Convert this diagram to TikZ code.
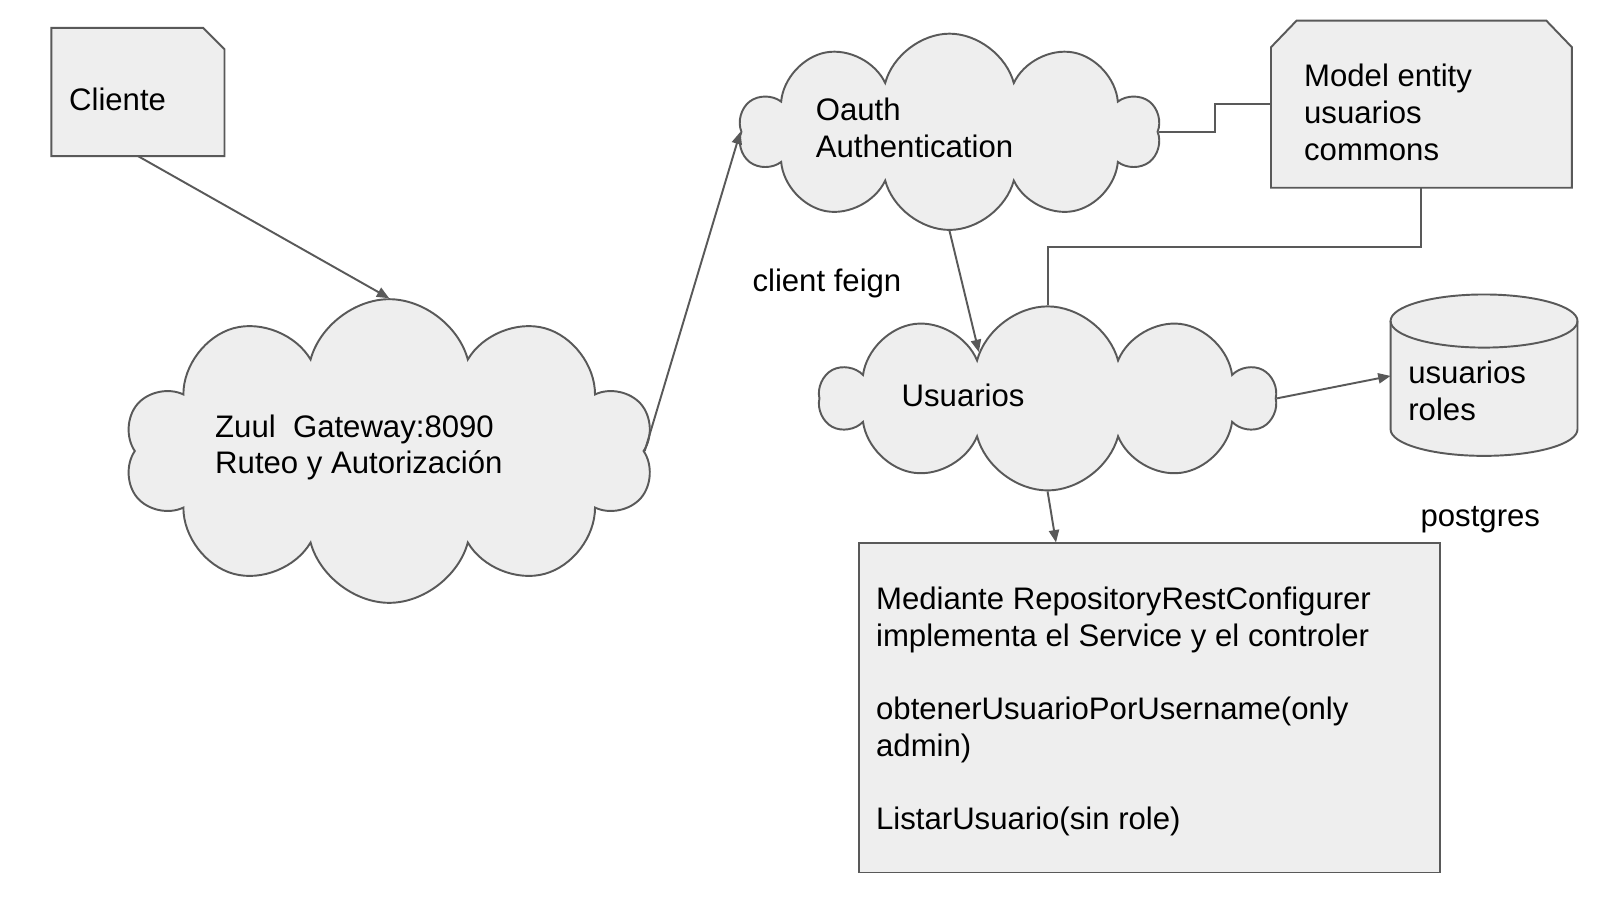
\documentclass[tikz,border=0pt]{standalone}
\usepackage{fontspec}
\setmainfont{Liberation Sans}
\usetikzlibrary{shapes.symbols,arrows.meta,calc}
\definecolor{gris}{HTML}{595959}
\definecolor{grisclaro}{HTML}{EEEEEE}

\begin{document}
\begin{tikzpicture}[x=0.010215cm,y=-0.010215cm,
			forma/.style={draw=gris, fill=grisclaro, line width=0.55pt},
			nube/.style={forma, cloud, cloud puffs=10, cloud ignores aspect, inner sep=0pt},
			caja/.style={forma, rectangle, inner sep=0pt},
			hueco/.style={rectangle, inner sep=0pt},
			texto/.style={anchor=west, align=left, inner sep=0pt, font=\fontsize{8.85}{10.45}\selectfont},
			conector/.style={draw=gris, line width=0.55pt},
			flecha/.style={conector, -{Triangle[length=3.5pt,width=2.9pt]}}]
			\useasboundingbox (0,0) rectangle (1566.3,881.1);
			\node[hueco, minimum width=1.716cm, minimum height=1.267cm] (cliente) at (135,90) {};
			\draw[forma] (cliente.south west) -- (cliente.north west) -- ($(cliente.north east)+(-21,0)$)
				-- ($(cliente.north east)+(0,21)$) -- (cliente.south east) -- cycle;
			\node[nube, minimum width=5.291cm, minimum height=3.034cm] (zuul) at (381,441.5) {};
			\node[nube, minimum width=4.198cm, minimum height=1.961cm] (oauth) at (929.5,129) {};
			\node[hueco, minimum width=2.993cm, minimum height=1.655cm] (model) at (1391.5,102) {};
			\draw[forma] (model.south west) -- ($(model.north west)+(0,26)$) -- ($(model.north west)+(25,0)$)
				-- ($(model.north east)+(-25,0)$) -- ($(model.north east)+(0,26)$) -- (model.south east) -- cycle;
			\node[nube, minimum width=4.525cm, minimum height=1.839cm] (usuarios) at (1025.5,390) {};
			\node[hueco, minimum width=1.869cm, minimum height=1.614cm] (bd) at (1453.5,368) {};
			\draw[forma] (bd.north west) ++(0,26) -- ++(0,106)
				arc[start angle=180, end angle=0, x radius=91.5, y radius=26] -- ++(0,-106)
				arc[start angle=0, end angle=-180, x radius=91.5, y radius=26] -- cycle;
			\draw[conector] (bd.north west) ++(0,26) arc[start angle=180, end angle=0, x radius=91.5, y radius=26];
			\node[caja, minimum width=5.802cm, minimum height=3.289cm] (servicio) at (1125,693) {};
			
			\node[texto] (cliente-txt) at (67,97) {Cliente};
			\node[texto] (zuul-txt) at (210,438) {Zuul\ \ Gateway:8090\\Ruteo y Autorizaci\'on};
			\node[texto] (oauth-txt) at (798,125.5) {Oauth\\Authentication};
			\node[texto] (model-txt) at (1276,110) {Model entity\\usuarios\\commons};
			\node[texto] (usuarios-txt) at (882,387) {Usuarios};
			\node[texto] (bd-txt) at (1378,382.5) {usuarios\\roles};
			\node[texto] (servicio-txt) at (857,696.5) {Mediante RepositoryRestConfigurer\\implementa el Service y el controler\\[10.45pt]obtenerUsuarioPorUsername(only\\admin)\\[10.45pt]ListarUsuario(sin role)};
			\node[texto] (feign) at (736,277) {client feign};
			\node[texto] (postgres) at (1390,509) {postgres};
			
			\draw[flecha] (cliente.south) -- (zuul.north);
			\draw[flecha] (zuul.east) -- (oauth.west);
			\draw[conector] (oauth.east) -- ++(55,0) |- (model.west);
			\draw[conector] (model.south) -- ++(0,58) -| (usuarios.north);
			\draw[flecha] (oauth.south) -- (usuarios.146.5);
			\draw[flecha] (usuarios.east) -- (bd.west);
			\draw[flecha] (usuarios.south) -- ($(servicio.north west)!0.34!(servicio.north east)$);
			\end{tikzpicture}
\end{document}
